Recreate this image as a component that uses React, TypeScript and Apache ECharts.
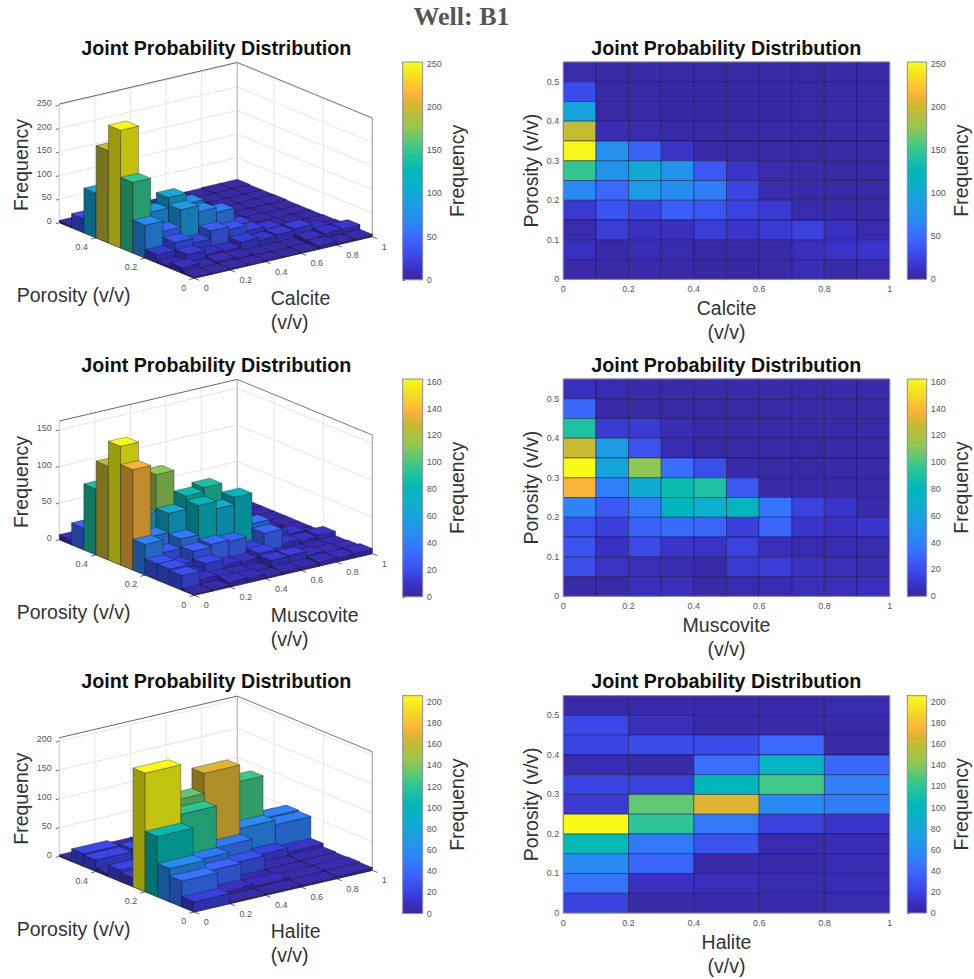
import React, { useEffect, useRef } from "react";
import * as echarts from "echarts";

// Counts per cell. Rows run from the top porosity bin (0.50-0.55) to the bottom one (0-0.05).
const calciteCounts = [
  [5, 4, 4, 3, 3, 3, 3, 3, 4, 4],
  [30, 3, 3, 2, 2, 2, 2, 3, 3, 3],
  [95, 3, 3, 2, 2, 2, 2, 3, 3, 3],
  [196, 8, 5, 3, 3, 3, 3, 3, 4, 4],
  [250, 75, 45, 15, 4, 3, 3, 3, 3, 3],
  [150, 78, 100, 78, 38, 15, 5, 4, 3, 3],
  [70, 48, 85, 72, 62, 25, 5, 4, 3, 3],
  [18, 35, 25, 42, 36, 24, 18, 5, 4, 4],
  [5, 20, 12, 10, 20, 15, 18, 22, 12, 5],
  [12, 4, 8, 6, 3, 3, 3, 10, 14, 15],
  [4, 3, 4, 3, 2, 2, 3, 8, 4, 5],
];
const muscoviteCounts = [
  [7, 4, 3, 3, 3, 3, 3, 3, 3, 3],
  [30, 3, 2, 2, 2, 2, 2, 3, 3, 3],
  [90, 12, 12, 5, 3, 3, 3, 3, 3, 3],
  [128, 55, 22, 4, 2, 2, 2, 2, 3, 3],
  [162, 62, 112, 33, 20, 3, 2, 2, 3, 3],
  [137, 40, 66, 84, 90, 24, 3, 3, 2, 3],
  [42, 25, 38, 78, 68, 78, 36, 15, 10, 3],
  [22, 14, 28, 32, 30, 14, 30, 10, 8, 10],
  [22, 8, 18, 10, 9, 15, 6, 4, 4, 4],
  [20, 9, 6, 5, 3, 12, 13, 8, 6, 5],
  [2, 3, 7, 6, 3, 4, 4, 6, 6, 7],
];
const haliteCounts = [
  [3, 4, 4, 4, 5],
  [22, 8, 3, 4, 4],
  [20, 25, 25, 40, 3],
  [6, 3, 42, 95, 38],
  [20, 18, 100, 126, 52],
  [15, 133, 168, 58, 50],
  [206, 120, 48, 18, 12],
  [105, 48, 28, 5, 6],
  [58, 38, 4, 4, 5],
  [45, 10, 8, 5, 6],
  [18, 3, 4, 4, 5],
];
const mineralNames = ["Calcite", "Muscovite", "Halite"];
const mineralCounts = [calciteCounts, muscoviteCounts, haliteCounts];
const colorMaxima = [252, 162, 206];
const colorIntervals = [50, 20, 20];
const surfaceZTicks = [
  [0, 50, 100, 150, 200, 250],
  [0, 50, 100, 150],
  [0, 50, 100, 150, 200],
];
const shareTicks = [0, 0.2, 0.4, 0.6, 0.8, 1];
const porosityTicks3d = [0, 0.2, 0.4];
const POROSITY_MAX = 0.55;
const POROSITY_BIN = 0.05;

const parulaStops: [number, string][] = [
  [0, "#38279c"],
  [0.05, "#3a30c2"],
  [0.1, "#3a45e4"],
  [0.2, "#3a6cff"],
  [0.27, "#2a88f4"],
  [0.35, "#1a9ee0"],
  [0.43, "#0cb0cc"],
  [0.5, "#00b8b8"],
  [0.6, "#35c88e"],
  [0.7, "#95c84e"],
  [0.8, "#d0b82e"],
  [0.85, "#fdb23a"],
  [0.92, "#f5d725"],
  [1, "#f9fb15"],
];
const rgb = (h: string) => [1, 3, 5].map((i) => parseInt(h.slice(i, i + 2), 16));
function parula(t: number, shade = 1): string {
  const v = Math.min(1, Math.max(0, t));
  let i = 0;
  while (i < parulaStops.length - 2 && v > parulaStops[i + 1][0]) i++;
  const [a, ca] = parulaStops[i];
  const [b, cb] = parulaStops[i + 1];
  const f = (v - a) / (b - a);
  const A = rgb(ca);
  const B = rgb(cb);
  const c = A.map((x, k) => Math.round((x + (B[k] - x) * f) * shade));
  return `rgb(${c[0]},${c[1]},${c[2]})`;
}

const FONT = "'Liberation Sans', Arial, sans-serif";
const ROW_SHIFT = [0, 317, 633.7];
const TITLE_Y = 47.7;
const TICK_COLOR = "#555555";
const LABEL_COLOR = "#333333";
const BOX_COLOR = "#8a8aa8";

function makeOption() {
  const grid: any[] = [];
  const xAxis: any[] = [];
  const yAxis: any[] = [];
  const series: any[] = [];
  const graphic: any[] = [];
  const title: any[] = [
    {
      text: "Well: B1",
      left: 461.5,
      top: 3,
      padding: 0,
      textAlign: "center",
      textStyle: { fontFamily: "'Liberation Serif', serif", fontSize: 26, fontWeight: "bold", color: "#555555" },
    },
  ];

  const addTitle = (cx: number, cy: number) =>
    title.push({
      text: "Joint Probability Distribution",
      left: cx,
      top: cy - 10,
      padding: 0,
      textAlign: "center",
      textStyle: { fontFamily: FONT, fontSize: 19.7, fontWeight: "bold", color: "#111111" },
    });

  const txt = (text: string, x: number, y: number, size: number, color: string, align = "left", rotation = 0) =>
    graphic.push({
      type: "text",
      x,
      y,
      rotation,
      silent: true,
      style: { text, fill: color, fontFamily: FONT, fontSize: size, textAlign: align, textVerticalAlign: "middle" },
    });

  const addColorbar = (left: number, width: number, top: number, height: number, max: number, interval: number) => {
    const idx = grid.length;
    grid.push({ left, top, width, height });
    xAxis.push({ gridIndex: idx, type: "value", min: 0, max: 1, show: false });
    yAxis.push({
      gridIndex: idx,
      type: "value",
      position: "right",
      min: 0,
      max,
      interval,
      splitLine: { show: false },
      axisLine: { show: false },
      axisTick: { show: true, length: 2, lineStyle: { color: "#555" } },
      axisLabel: {
        margin: 4,
        fontFamily: FONT,
        fontSize: 9,
        color: TICK_COLOR,
        formatter: (v: number) => (v % interval === 0 ? String(v) : ""),
      },
      name: "Frequency",
      nameLocation: "middle",
      nameRotate: 90,
      nameGap: 24,
      nameTextStyle: { fontFamily: FONT, fontSize: 19.5, color: LABEL_COLOR },
    });
    series.push({
      type: "custom",
      xAxisIndex: idx,
      yAxisIndex: idx,
      silent: true,
      data: [[0, 1, 0, max]],
      renderItem: (_p: any, api: any) => {
        const a = api.coord([api.value(0), api.value(2)]);
        const b = api.coord([api.value(1), api.value(3)]);
        return {
          type: "rect",
          shape: { x: a[0], y: b[1], width: b[0] - a[0], height: a[1] - b[1] },
          style: {
            stroke: BOX_COLOR,
            lineWidth: 1,
            fill: new echarts.graphic.LinearGradient(
              0,
              1,
              0,
              0,
              parulaStops.map(([offset, color]) => ({ offset, color }))
            ),
          },
        };
      },
    });
  };

  const addHeatmap = (row: number) => {
    const counts = mineralCounts[row];
    const max = colorMaxima[row];
    const nx = counts[0].length;
    const idx = grid.length;
    const top = 62 + ROW_SHIFT[row];
    grid.push({ left: 563.3, top, width: 326.4, height: 217.3 });
    const tickStyle = { margin: 5, fontFamily: FONT, fontSize: 9, color: TICK_COLOR };
    const nameStyle = { fontFamily: FONT, fontSize: 19.5, color: LABEL_COLOR, lineHeight: 24 };
    xAxis.push({
      gridIndex: idx,
      type: "value",
      min: 0,
      max: 1,
      interval: 0.2,
      splitLine: { show: false },
      axisLine: { show: false },
      axisTick: { show: false },
      axisLabel: { ...tickStyle },
      name: `${mineralNames[row]}\n(v/v)`,
      nameLocation: "middle",
      nameGap: 17,
      nameTextStyle: nameStyle,
    });
    yAxis.push({
      gridIndex: idx,
      type: "value",
      min: 0,
      max: POROSITY_MAX,
      interval: 0.1,
      splitLine: { show: false },
      axisLine: { show: false },
      axisTick: { show: false },
      axisLabel: {
        ...tickStyle,
        margin: 4,
        formatter: (v: number) => (v > 0.5001 ? "" : String(Math.round(v * 10) / 10)),
      },
      name: "Porosity (v/v)",
      nameLocation: "middle",
      nameGap: 20,
      nameTextStyle: nameStyle,
    });
    const data: number[][] = [];
    counts.forEach((r, ri) =>
      r.forEach((v, ci) => {
        const y0 = (counts.length - 1 - ri) * POROSITY_BIN;
        data.push([ci / nx, (ci + 1) / nx, y0, y0 + POROSITY_BIN, v]);
      })
    );
    series.push({
      type: "custom",
      xAxisIndex: idx,
      yAxisIndex: idx,
      silent: true,
      clip: false,
      data,
      renderItem: (_p: any, api: any) => {
        const a = api.coord([api.value(0), api.value(2)]);
        const b = api.coord([api.value(1), api.value(3)]);
        return {
          type: "rect",
          shape: { x: a[0], y: b[1], width: b[0] - a[0], height: a[1] - b[1] },
          style: { fill: parula(api.value(4) / max), stroke: "rgba(12,12,50,0.55)", lineWidth: 0.8 },
        };
      },
    });
    graphic.push({
      type: "rect",
      z: 50,
      silent: true,
      shape: { x: 563.3, y: top, width: 326.4, height: 217.3 },
      style: { fill: "none", stroke: BOX_COLOR, lineWidth: 1 },
    });
    addTitle(726.3, TITLE_Y + ROW_SHIFT[row]);
    addColorbar(907.3, 19.4, top, 217.3, max, colorIntervals[row]);
  };

  const addSurface = (row: number) => {
    const counts = mineralCounts[row];
    const max = colorMaxima[row];
    const nx = counts[0].length;
    const dy = ROW_SHIFT[row];
    const P = (x: number, y: number, z: number): [number, number] => {
      const ty = y / POROSITY_MAX;
      return [194.3 + 178 * x - 135 * ty, 278.3 + dy - 41.6 * x - 55.6 * ty - (118.7 * z) / max];
    };
    const line = (a: [number, number], b: [number, number], color: string, width = 1) =>
      graphic.push({
        type: "line",
        silent: true,
        shape: { x1: a[0], y1: a[1], x2: b[0], y2: b[1] },
        style: { stroke: color, lineWidth: width },
      });
    const GRID = "#e6e6e6";
    const zTicks = surfaceZTicks[row];
    zTicks.forEach((z) => {
      line(P(0, POROSITY_MAX, z), P(1, POROSITY_MAX, z), GRID);
      line(P(1, POROSITY_MAX, z), P(1, 0, z), GRID);
      const p = P(0, POROSITY_MAX, z);
      line(p, [p[0] - 3.5, p[1] + 1], "#666");
      txt(String(z), p[0] - 7.6, p[1] - 1.7, 9, TICK_COLOR, "right");
    });
    shareTicks.forEach((x) => {
      line(P(x, POROSITY_MAX, 0), P(x, POROSITY_MAX, max), GRID);
      const p = P(x, 0, 0);
      line(p, [p[0] + 5, p[1] + 2], "#666");
      txt(String(x), p[0] + 9.5, p[1] + 10, 9, TICK_COLOR, "left");
    });
    porosityTicks3d.forEach((y) => {
      line(P(1, y, 0), P(1, y, max), GRID);
      const p = P(0, y, 0);
      line(p, [p[0] - 5, p[1] + 1.2], "#666");
      txt(String(y), p[0] - 8, p[1] + 9.2, 9, TICK_COLOR, "right");
    });
    line(P(0, POROSITY_MAX, 0), P(0, POROSITY_MAX, max), "#d0d0d0");
    line(P(1, POROSITY_MAX, 0), P(1, POROSITY_MAX, max), "#b5b5b5");
    line(P(1, 0, 0), P(1, 0, max), "#9a9a9a");
    line(P(0, POROSITY_MAX, max), P(1, POROSITY_MAX, max), "#666666");
    line(P(1, POROSITY_MAX, max), P(1, 0, max), "#777777");
    line(P(0, POROSITY_MAX, 0), P(0, 0, 0), "#555555");
    line(P(0, 0, 0), P(1, 0, 0), "#555555");

    // Back to front, so that nearer bars paint over farther ones.
    const data: number[][] = [];
    counts.forEach((r, ri) => {
      for (let ci = nx - 1; ci >= 0; ci--) {
        const y0 = (counts.length - 1 - ri) * POROSITY_BIN;
        data.push([ci / nx, (ci + 1) / nx, y0, y0 + POROSITY_BIN, r[ci]]);
      }
    });
    const edge = { stroke: "rgba(15,15,25,0.55)", lineWidth: 0.6 };
    series.push({
      type: "custom",
      coordinateSystem: "none",
      silent: true,
      data,
      renderItem: (_p: any, api: any) => {
        const x0 = api.value(0);
        const x1 = api.value(1);
        const y0 = api.value(2);
        const y1 = api.value(3);
        const v = api.value(4);
        const t = v / max;
        const poly = (points: [number, number][], shade: number) => ({
          type: "polygon",
          shape: { points },
          style: { fill: parula(t, shade), ...edge },
        });
        return {
          type: "group",
          children: [
            poly([P(x0, y0, 0), P(x0, y1, 0), P(x0, y1, v), P(x0, y0, v)], 0.62),
            poly([P(x0, y0, 0), P(x1, y0, 0), P(x1, y0, v), P(x0, y0, v)], 0.78),
            poly([P(x0, y0, v), P(x1, y0, v), P(x1, y1, v), P(x0, y1, v)], 1),
          ],
        };
      },
    });

    txt("Frequency", 20.7, 165 + dy, 19.5, LABEL_COLOR, "center", Math.PI / 2);
    txt("Porosity (v/v)", 16.7, 295 + dy, 19.5, LABEL_COLOR, "left");
    txt(mineralNames[row], 270.7, 297.7 + dy, 19.5, LABEL_COLOR, "left");
    txt("(v/v)", 270.7, 321.7 + dy, 19.5, LABEL_COLOR, "left");
    addTitle(216.3, TITLE_Y + dy);
    addColorbar(402.7, 20, 62 + dy, 217.8, max, colorIntervals[row]);
  };

  [0, 1, 2].forEach((row) => {
    addSurface(row);
    addHeatmap(row);
  });

  return { animation: false, backgroundColor: "#ffffff", title, grid, xAxis, yAxis, series, graphic };
}

export default function App() {
  const ref = useRef<HTMLDivElement>(null);
  useEffect(() => {
    const chart = echarts.init(ref.current!, undefined, { renderer: "svg" });
    chart.setOption(makeOption() as any);
    return () => chart.dispose();
  }, []);
  return <div ref={ref} style={{ position: "absolute", left: 0, top: 0, width: 974, height: 979 }} />;
}
